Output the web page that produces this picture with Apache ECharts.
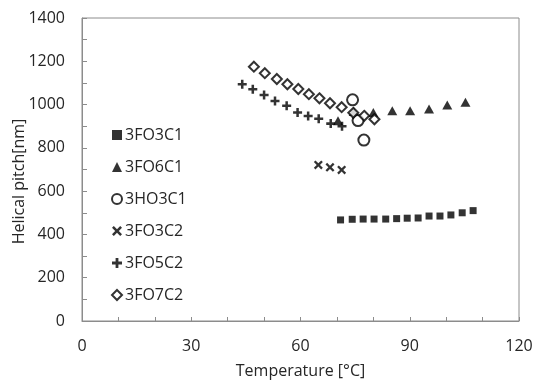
<!DOCTYPE html>
<html>
<head>
<meta charset="utf-8">
<script src="https://cdn.jsdelivr.net/npm/echarts@6/dist/echarts.min.js"></script>
<style>
  html, body { margin: 0; padding: 0; background: #fff; }
  #chart { width: 533px; height: 385px; }
</style>
</head>
<body>
<div id="chart"></div>
<script>
// temperatures [°C] and helical pitch [nm] per sample
const fo3c1T = [71.0, 74.2, 77.2, 80.2, 83.4, 86.4, 89.3, 92.3, 95.3, 98.3, 101.3, 104.4, 107.4];
const fo3c1P = [467, 470, 471, 471, 471, 473, 475, 476, 485, 485, 490, 500, 510];

const fo6c1T = [70.3, 74.6, 80.0, 85.2, 90.1, 95.3, 100.3, 105.3];
const fo6c1P = [925, 968, 963, 972, 972, 980, 998, 1011];

const ho3c1T = [74.3, 75.8, 77.4];
const ho3c1P = [1022, 926, 836];

const fo3c2T = [64.9, 68.1, 71.3];
const fo3c2P = [721, 710, 698];

const fo5c2T = [44.0, 46.9, 50.0, 53.0, 56.2, 59.2, 62.1, 65.0, 68.3, 71.4];
const fo5c2P = [1094, 1071, 1044, 1017, 995, 963, 947, 935, 912, 900];

const fo7c2T = [47.2, 50.2, 53.5, 56.4, 59.4, 62.3, 65.2, 68.1, 71.3, 74.5, 77.5, 80.3];
const fo7c2P = [1175, 1145, 1118, 1094, 1072, 1048, 1029, 1006, 988, 962, 948, 932];

const seriesNames = ['3FO3C1', '3FO6C1', '3HO3C1', '3FO3C2', '3FO5C2', '3FO7C2'];

const plusPath = 'path://M3.6,0H6.4V3.6H10V6.4H6.4V10H3.6V6.4H0V3.6H3.6Z';
const crossPath = 'path://M0,1.8L1.8,0L5,3.2L8.2,0L10,1.8L6.8,5L10,8.2L8.2,10L5,6.8L1.8,10L0,8.2L3.2,5Z';

const textColor = '#262626';
const font = '"Open Sans", sans-serif';

function pairs(xs, ys) {
  return xs.map((x, i) => [x, ys[i]]);
}

function scatter(name, xs, ys, symbol, size, hollow) {
  return {
    name,
    type: 'scatter',
    data: pairs(xs, ys),
    symbol,
    symbolSize: size,
    itemStyle: hollow
      ? { color: '#fff', borderColor: '#000', borderWidth: 2 }
      : { color: '#000' },
    z: 3,
  };
}

const chart = echarts.init(document.getElementById('chart'), null, { renderer: 'canvas' });

chart.setOption({
  backgroundColor: '#fff',
  animation: false,
  grid: {
    left: 82,
    right: 14,
    top: 18,
    bottom: 64,
    outerBoundsMode: 'none',
    containLabel: false,
    show: true,
    borderColor: '#8c8c8c',
    borderWidth: 1,
  },
  legend: {
    data: seriesNames,
    orient: 'vertical',
    left: 106,
    top: 120,
    itemWidth: 10,
    itemHeight: 10,
    itemGap: 12,
    textStyle: {
      fontFamily: font,
      fontSize: 16,
      color: textColor,
      lineHeight: 20,
      padding: [0, 0, 0, -2],
    },
  },
  xAxis: {
    type: 'value',
    min: 0,
    max: 120,
    interval: 10,
    name: 'Temperature [°C]',
    nameLocation: 'middle',
    nameGap: 42,
    nameMoveOverlap: false,
    nameTextStyle: { fontFamily: font, fontSize: 16, color: textColor },
    axisLine: { lineStyle: { color: '#8c8c8c', width: 1 } },
    axisTick: { inside: true, length: 4, lineStyle: { color: '#8c8c8c' } },
    axisLabel: {
      margin: 17,
      fontFamily: font,
      fontSize: 16,
      color: textColor,
      formatter: (v) => (v % 30 === 0 ? String(v) : ''),
    },
    splitLine: { show: false },
  },
  yAxis: {
    type: 'value',
    min: 0,
    max: 1400,
    interval: 100,
    name: 'Helical pitch[nm]',
    nameLocation: 'middle',
    nameGap: 55,
    nameMoveOverlap: false,
    nameTextStyle: { fontFamily: font, fontSize: 16, color: textColor, padding: [0, 24, 0, 0] },
    axisLine: { show: true, lineStyle: { color: '#8c8c8c', width: 1 } },
    axisTick: { show: true, inside: true, length: 5, lineStyle: { color: '#8c8c8c' } },
    axisLabel: {
      margin: 17,
      fontFamily: font,
      fontSize: 16,
      color: textColor,
      formatter: (v) => (v % 200 === 0 ? String(v) : ''),
    },
    splitLine: { show: false },
  },
  series: [
    scatter('3FO3C1', fo3c1T, fo3c1P, 'rect', 7, false),
    scatter('3FO6C1', fo6c1T, fo6c1P, 'triangle', [10, 9], false),
    scatter('3HO3C1', ho3c1T, ho3c1P, 'circle', 11, true),
    scatter('3FO3C2', fo3c2T, fo3c2P, crossPath, 9, false),
    scatter('3FO5C2', fo5c2T, fo5c2P, plusPath, 9, false),
    scatter('3FO7C2', fo7c2T, fo7c2P, 'diamond', 10, true),
  ],
});
</script>
</body>
</html>
